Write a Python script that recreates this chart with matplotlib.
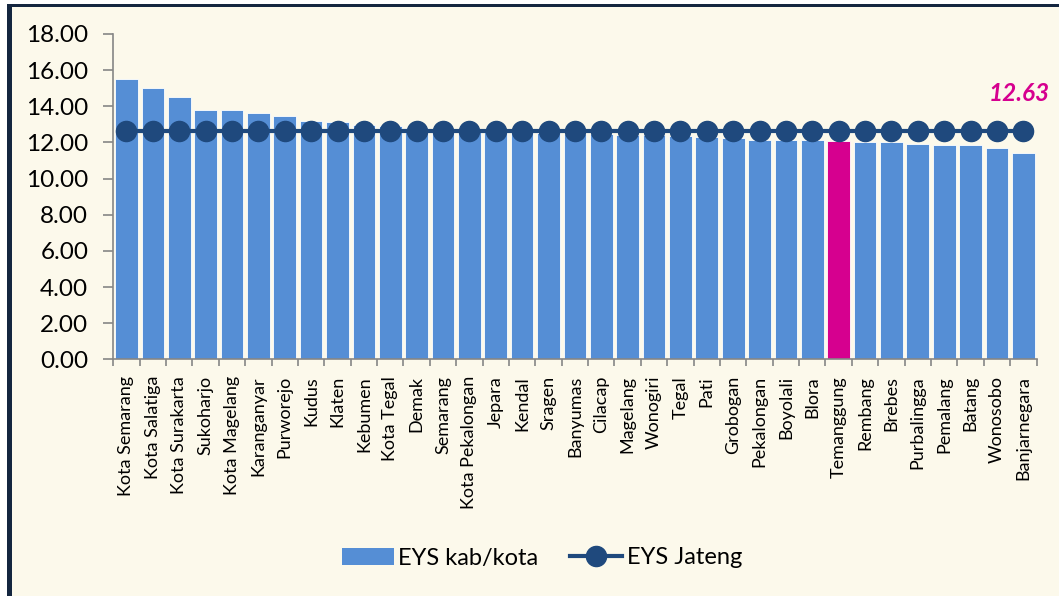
import matplotlib
matplotlib.use("Agg")
import matplotlib.pyplot as plt
from matplotlib.patches import Rectangle
from matplotlib.lines import Line2D
import numpy as np

categories = ["Kota Semarang", "Kota Salatiga", "Kota Surakarta", "Sukoharjo", "Kota Magelang",
              "Karanganyar", "Purworejo", "Kudus", "Klaten", "Kebumen", "Kota Tegal", "Demak",
              "Semarang", "Kota Pekalongan", "Jepara", "Kendal", "Sragen", "Banyumas", "Cilacap",
              "Magelang", "Wonogiri", "Tegal", "Pati", "Grobogan", "Pekalongan", "Boyolali",
              "Blora", "Temanggung", "Rembang", "Brebes", "Purbalingga", "Pemalang", "Batang",
              "Wonosobo", "Banjarnegara"]
eys_kab = [15.49, 15.00, 14.52, 13.81, 13.79, 13.63, 13.46, 13.20, 13.13, 12.95, 12.90, 12.82,
           12.74, 12.68, 12.62, 12.57, 12.52, 12.48, 12.45, 12.42, 12.39, 12.35, 12.31, 12.25,
           12.15, 12.14, 12.13, 12.08, 12.03, 12.02, 11.93, 11.88, 11.87, 11.68, 11.40]
eys_jateng = [12.63] * len(categories)
highlight = "Temanggung"
yticks = [0, 2, 4, 6, 8, 10, 12, 14, 16, 18]

plt.rcParams['font.family'] = ['Lato', 'DejaVu Sans']

W, H = 1059, 596
fig = plt.figure(figsize=(W / 100, H / 100), dpi=100)
fig.patch.set_facecolor("white")
navy = "#14263f"
cream = "#fcf9eb"
fig.patches.append(Rectangle((12 / W, 0), 1, 1 - 7 / H, transform=fig.transFigure,
                             facecolor=cream, edgecolor="none", zorder=0))
fig.patches.append(Rectangle((7 / W, 1 - 7 / H), 1, 3.5 / H, transform=fig.transFigure,
                             facecolor=navy, edgecolor="none", zorder=1))
fig.patches.append(Rectangle((7 / W, 0), 5 / W, 1 - 4 / H, transform=fig.transFigure,
                             facecolor=navy, edgecolor="none", zorder=1))

left, right = 113.3 / W, 1036.5 / W
bottom, top = 1 - 359.3 / H, 1 - 34 / H
ax = fig.add_axes([left, bottom, right - left, top - bottom])
ax.set_zorder(5)
ax.set_facecolor("none")

x = np.arange(len(categories))
colors = ["#d6008f" if c == highlight else "#558ed5" for c in categories]
ax.bar(x, eys_kab, width=0.86, color=colors, edgecolor="white", linewidth=0.6, zorder=2)
ax.plot(x, eys_jateng, color="#1f497d", linewidth=3, marker="o", markersize=14.5, zorder=3)

ax.set_xlim(-0.5, len(categories) - 0.5)
ax.set_ylim(0, 18)
ax.set_yticks(yticks)
ax.set_yticklabels([f"{v:.2f}" for v in yticks], fontsize=17.5)
ax.set_xticks(x)
ax.set_xticklabels(categories, rotation=90, fontsize=13)
ax.set_xticks(np.arange(-0.5, len(categories)), minor=True)
ax.tick_params(axis="x", which="major", length=0, pad=12)
ax.tick_params(axis="x", which="minor", length=5, color="#868686", width=1.2)
ax.tick_params(axis="y", length=7, color="#868686", width=1.2, pad=11)
for s in ["top", "right"]:
    ax.spines[s].set_visible(False)
for s in ["left", "bottom"]:
    ax.spines[s].set_color("#868686")
    ax.spines[s].set_linewidth(1.2)

ax.annotate(f"{eys_jateng[-1]:.2f}", xy=(x[-1], eys_jateng[-1]), xytext=(19, 27),
            textcoords="offset points", ha="right", va="center", fontsize=17.5,
            fontweight="bold", fontstyle="italic", color="#d6008f")

handles = [Rectangle((0, 0), 1, 1, facecolor="#558ed5"),
           Line2D([0], [0], color="#1f497d", linewidth=3, marker="o", markersize=14.5)]
leg = fig.legend(handles, ["EYS kab/kota", "EYS Jateng"], loc="center",
                 bbox_to_anchor=(542 / W, 1 - 558 / H), ncol=2, frameon=False, fontsize=17,
                 handlelength=2.2, handleheight=0.7, handletextpad=0.2, columnspacing=1.35)
leg.set_zorder(6)

fig.savefig("out.png", dpi=100, facecolor=fig.get_facecolor())
